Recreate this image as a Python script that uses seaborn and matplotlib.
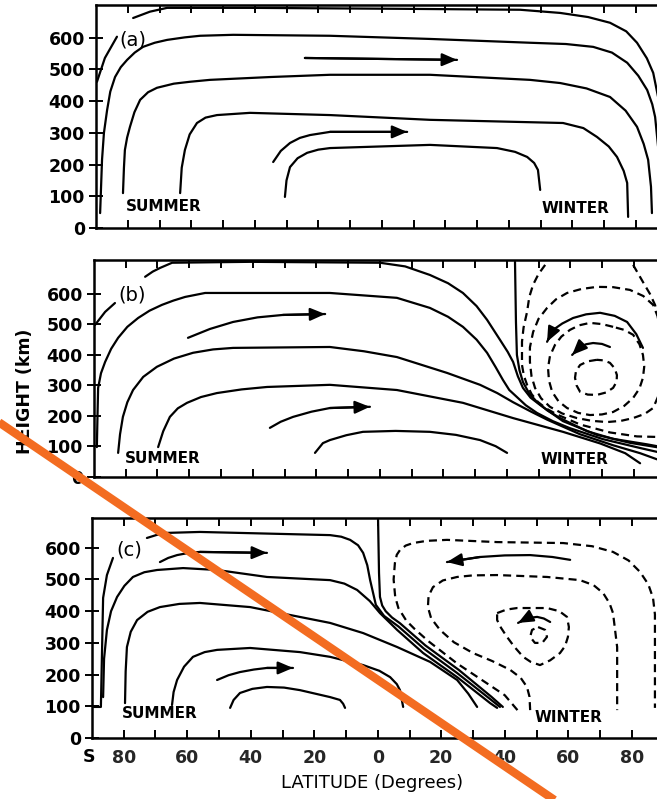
"""Three-panel meridional circulation sketch (summer/winter), redrawn with seaborn."""
import matplotlib

matplotlib.use("Agg")
import matplotlib.pyplot as plt
import seaborn as sns
from matplotlib.lines import Line2D

sns.set_theme(style="white")
plt.rcParams["font.family"] = ["DejaVu Sans"]

INK = "black"
ORANGE = "#f36c21"

# ---- axis values ------------------------------------------------------------
LAT_TICKS = list(range(-80, 90, 10))
LAT_LABELS = ["80", "", "60", "", "40", "", "20", "", "0", "", "20", "", "40", "", "60", "", "80"]
HEIGHT_TICKS = [0, 100, 200, 300, 400, 500, 600]

# ---- panel (a): streamlines as (latitude, height km) ------------------------
A_LEAD = [(-83.4, 603), (-87.2, 536), (-89.7, 461)]
A_TOP = [(-78.3, 662), (-73.0, 682), (-67.6, 694), (-41.5, 694), (5.8, 691), (43.6, 688),
         (56.2, 678), (65.0, 665), (71.9, 647), (77.0, 620), (80.4, 584), (83.5, 535),
         (85.5, 489), (87.3, 400), (88.3, 309), (89.0, 88)]
A_600 = [(-88.7, 47), (-88.1, 215), (-87.5, 300), (-86.5, 372), (-85.5, 430), (-84.0, 476),
         (-82.2, 507), (-80.2, 530), (-77.8, 553), (-75.2, 571), (-71.5, 584), (-67.6, 593),
         (-62.0, 601), (-57.2, 606), (-46.8, 609), (-16.3, 606), (15.2, 596), (46.7, 584),
         (58.0, 580), (66.6, 571), (72.5, 553), (77.3, 521), (80.8, 480), (83.6, 435),
         (85.2, 390), (86.1, 350), (87.0, 260), (87.3, 183), (87.7, 47)]
A_480 = [(-81.5, 110), (-81.2, 190), (-80.9, 246), (-80.2, 285), (-79.3, 319), (-77.9, 365),
         (-76.1, 404), (-73.6, 428), (-70.8, 442), (-65.5, 455), (-60.4, 461), (-54.1, 467),
         (-35.0, 476), (-16.3, 483), (15.2, 483), (46.7, 467), (56.2, 457), (64.5, 440),
         (71.9, 413), (76.8, 370), (80.4, 319), (82.5, 265), (83.9, 215), (84.8, 130), (85.1, 47)]
A_356 = [(-63.5, 110), (-63.0, 190), (-62.0, 246), (-60.5, 295), (-58.2, 331), (-55.5, 348),
         (-51.9, 356), (-41.5, 363), (-16.3, 356), (15.2, 341), (57.1, 331), (63.5, 315),
         (67.8, 287), (71.5, 257), (74.1, 224), (76.2, 180), (77.3, 142), (77.6, 35)]
A_250 = [(-30.5, 98), (-30.0, 150), (-28.9, 192), (-26.5, 220), (-23.5, 237), (-20.0, 247),
         (-16.3, 252), (15.2, 262), (36.3, 252), (42.0, 240), (45.8, 224), (48.0, 205),
         (49.2, 183), (49.9, 120)]
A_ARR1 = [(-24.2, 536), (23.7, 530)]
A_ARR2 = [(-34.2, 208), (-31.8, 243), (-28.9, 268), (-25.8, 284), (-22.6, 293), (-16.3, 303),
          (8.0, 303)]

# ---- panel (b) --------------------------------------------------------------
B_LEAD = [(-83.4, 570), (-86.5, 541), (-89.7, 498)]
B_TOP = [(-73.9, 656), (-71.5, 673), (-69.2, 685), (-65.4, 702), (-40.9, 705), (0.1, 702),
         (8.0, 690), (15.8, 662), (21.5, 635), (26.2, 603), (30.5, 560), (33.8, 515),
         (37.9, 449), (40.3, 410), (42.0, 377), (43.5, 330), (45.1, 292), (47.5, 260),
         (50.5, 236), (57.7, 183), (68.4, 138), (78.8, 112), (88.3, 96)]
B_600 = [(-89.1, 98), (-88.9, 200), (-88.7, 292), (-87.8, 340), (-86.5, 377), (-84.6, 420),
         (-82.4, 456), (-79.5, 492), (-76.1, 521), (-72.5, 545), (-68.6, 564), (-65.0, 578),
         (-61.3, 590), (-55.0, 603), (-15.7, 603), (5.4, 587), (15.8, 554), (21.5, 525),
         (26.2, 492), (30.5, 450), (33.8, 407), (36.5, 360), (38.8, 318), (40.8, 285),
         (43.2, 262), (46.0, 235), (49.5, 210), (54.5, 183), (59.9, 160), (70.3, 124),
         (82.0, 95), (88.3, 80)]
B_426 = [(-82.4, 79), (-81.8, 140), (-80.9, 197), (-79.5, 245), (-77.7, 285), (-74.5, 328),
         (-70.2, 361), (-64.8, 388), (-58.8, 407), (-52.5, 418), (-46.2, 423), (-15.7, 426),
         (-5.0, 412), (5.4, 393), (13.0, 368), (21.2, 341), (31.6, 302), (37.0, 275),
         (42.0, 245), (47.5, 215), (52.7, 188), (63.1, 140), (73.5, 104), (82.0, 78), (87.3, 58)]
B_302 = [(-69.8, 98), (-68.2, 150), (-66.1, 197), (-63.6, 225), (-60.7, 243), (-56.3, 262),
         (-51.3, 275), (-43.5, 287), (-35.5, 295), (-15.7, 302), (5.4, 285), (26.2, 243),
         (42.0, 193), (57.7, 148), (69.4, 110), (77.3, 78), (82.0, 45)]
B_INNER = [(-20.4, 79), (-17.9, 111), (-15.7, 121), (-10.5, 137), (-5.3, 148), (5.0, 151),
           (15.8, 148), (24.0, 138), (31.6, 121), (36.5, 101), (40.1, 79)]
B_VERT = [(42.6, 705), (42.9, 508), (43.2, 400), (44.0, 350), (45.1, 311), (47.0, 275),
          (49.5, 246), (52.8, 218), (56.8, 193), (65.3, 150), (73.5, 125), (84.2, 107), (88.9, 98)]
B_ARR1 = [(-60.4, 456), (-53.5, 485), (-46.2, 508), (-38.5, 523), (-30.5, 531), (-17.2, 534)]
B_ARR2 = [(-34.6, 161), (-31.2, 181), (-27.3, 197), (-21.5, 214), (-15.7, 226), (-3.1, 230)]
B_ARR3 = [(82.9, 423), (80.8, 468), (77.9, 508), (74.0, 528), (69.4, 538), (65.0, 533),
          (60.9, 521), (57.5, 503), (54.6, 482), (52.7, 443)]
B_ARR4 = [(72.5, 426), (70.0, 436), (67.2, 439), (65.0, 435), (63.1, 426), (60.6, 400)]
B_DASH_EDGE = [(52.1, 695), (50.0, 665), (48.3, 630), (47.1, 590), (46.4, 541), (45.3, 490),
               (44.8, 443), (44.8, 367), (45.4, 332), (46.4, 302), (47.8, 272), (49.8, 246),
               (52.5, 224), (55.8, 205), (63.1, 172), (72.5, 146), (81.0, 133), (88.3, 131)]
B_DASH_RIGHT = [(79.8, 695), (82.9, 639), (85.1, 600), (86.7, 564), (88.1, 510), (88.9, 449)]
B_LOOP1 = [(88.3, 482), (87.5, 527), (86.1, 564), (83.0, 593), (78.8, 613), (73.5, 622),
           (68.4, 623), (63.5, 616), (59.0, 603), (55.5, 582), (52.7, 554), (50.0, 518),
           (48.3, 475), (47.3, 425), (47.3, 377), (47.8, 330), (48.9, 292), (50.8, 258),
           (53.6, 230), (57.5, 208), (62.1, 193), (66.8, 184), (71.6, 180), (76.0, 184),
           (79.8, 193), (83.5, 207), (86.1, 226), (87.6, 262), (88.3, 302)]
B_LOOP2 = [(73.5, 492), (70.0, 501), (66.2, 505), (62.8, 497), (59.9, 482), (57.2, 460),
           (55.2, 433), (53.6, 396), (53.0, 357), (53.3, 316), (54.3, 279), (56.3, 248),
           (59.0, 226), (62.5, 210), (66.2, 203), (70.0, 205), (73.5, 213), (77.0, 233),
           (79.8, 259), (81.8, 290), (82.9, 325), (83.3, 362), (82.9, 400), (81.8, 435),
           (79.8, 466), (77.0, 482), (73.5, 492)]
B_LOOP3 = [(68.4, 384), (65.5, 379), (63.1, 367), (61.8, 347), (61.5, 325), (62.0, 300),
           (63.1, 279), (65.5, 270), (68.4, 269), (71.3, 277), (73.5, 292), (74.6, 312),
           (74.7, 334), (74.0, 356), (72.5, 374), (70.6, 382), (68.4, 384)]

# ---- panel (c) --------------------------------------------------------------
C_LEAD = [(-83.4, 568), (-85.3, 514), (-86.5, 442), (-87.2, 98), (-89.4, 98)]
C_TOP = [(-72.7, 631), (-69.5, 641), (-66.4, 647), (-56.0, 650), (-15.0, 640), (-11.5, 635),
         (-8.7, 625), (-6.2, 608), (-4.6, 584), (-3.3, 545), (-2.4, 498), (-0.6, 420),
         (2.0, 385), (6.5, 352), (14.5, 282), (25.0, 205), (35.5, 122), (38.5, 98)]
C_VERT = [(0.1, 688), (0.4, 520), (0.7, 445), (1.4, 418), (2.5, 400), (4.5, 380), (7.0, 362),
          (15.0, 292), (25.5, 215), (35.8, 130), (39.4, 98)]
C_530 = [(-86.5, 129), (-86.2, 250), (-85.3, 341), (-84.0, 400), (-82.1, 445), (-79.8, 480),
         (-77.1, 508), (-73.5, 523), (-69.5, 530), (-61.3, 536), (-50.6, 530), (-34.9, 508),
         (-15.0, 498), (-10.5, 487), (-6.5, 467), (-2.5, 432), (0.7, 394), (6.1, 341),
         (14.3, 268), (25.0, 192), (35.4, 110), (37.6, 95)]
C_420 = [(-79.6, 110), (-79.4, 210), (-79.0, 287), (-77.8, 335), (-75.8, 372), (-72.5, 398),
         (-68.6, 413), (-62.5, 423), (-56.0, 426), (-40.2, 413), (-15.0, 363), (-4.6, 331),
         (6.1, 287), (16.5, 240), (25.0, 183), (28.5, 140), (31.3, 98)]
C_300 = [(-64.8, 104), (-64.3, 145), (-63.2, 183), (-61.0, 225), (-58.2, 256), (-54.5, 271),
         (-50.6, 278), (-40.2, 284), (-24.5, 271), (-15.0, 256), (-4.6, 230), (0.5, 212),
         (3.9, 192), (6.0, 170), (7.0, 151), (8.0, 98)]
C_INNER = [(-46.5, 95), (-45.4, 120), (-43.4, 142), (-39.5, 155), (-34.9, 161), (-29.5, 159),
           (-24.5, 151), (-15.0, 129), (-11.9, 120), (-10.9, 108), (-10.3, 95)]
C_ARR1 = [(-68.6, 555), (-66.0, 568), (-63.2, 577), (-59.5, 584), (-56.0, 587), (-34.9, 584)]
C_ARR2 = [(-50.6, 183), (-47.0, 198), (-43.4, 208), (-39.0, 216), (-34.9, 221), (-26.7, 221)]
C_ARR3 = [(60.6, 562), (55.0, 571), (48.0, 577), (40.0, 576), (32.2, 571), (21.8, 555)]
C_ARR4 = [(54.3, 366), (52.3, 377), (50.2, 382), (47.0, 378), (44.2, 363)]
C_DASH1 = [(44.0, 88), (40.0, 135), (34.0, 175), (25.0, 235), (16.0, 305), (11.5, 345),
           (9.0, 370), (6.5, 410), (5.5, 445), (5.0, 500), (5.4, 552), (6.0, 578), (7.0, 593),
           (8.8, 607), (11.1, 615), (15.5, 622), (21.8, 625), (37.6, 618), (58.4, 615),
           (67.5, 605), (74.1, 587), (79.0, 560), (82.6, 524), (85.2, 485), (86.7, 442),
           (87.3, 390), (87.3, 334), (87.3, 95)]
C_DASH2 = [(48.0, 88), (47.8, 130), (47.0, 161), (45.0, 190), (41.7, 215), (36.0, 243),
           (30.0, 268), (24.0, 302), (19.6, 341), (16.8, 378), (15.8, 413), (16.0, 448),
           (17.4, 476), (20.5, 497), (25.0, 508), (30.0, 513), (37.6, 514), (53.3, 508),
           (63.7, 498), (68.0, 482), (71.0, 457), (73.0, 425), (74.1, 394), (75.4, 287), (75.4, 88)]
C_DASH3 = [(37.6, 394), (40.5, 405), (43.9, 410), (53.3, 410), (57.2, 400), (59.6, 382),
           (60.2, 350), (59.9, 319), (59.0, 290), (57.4, 268), (54.3, 245), (51.1, 230),
           (48.2, 240), (45.8, 256), (43.0, 288), (40.7, 319), (38.8, 348), (37.6, 372), (37.6, 394)]
C_DASH4 = [(50.5, 350), (52.7, 341), (53.3, 319), (51.8, 300), (49.5, 300), (48.0, 319),
           (48.6, 341), (50.5, 350)]
C_DASH_RIGHT = [(88.8, 610), (88.8, 500)]

# ---- text ---------------------------------------------------------------------
PANEL_TAGS = ["(a)", "(b)", "(c)"]
TAG_POS = [(-82.6, 593), (-82.4, 597), (-82.4, 593)]
SUMMER_POS = [(-80.6, 69), (-80.2, 59), (-80.6, 76)]
WINTER_POS = [(50.4, 60), (50.5, 56), (49.5, 66)]

# axes boxes in pixels: left spine, top spine, bottom spine, top of y-range
FIG_W, FIG_H = 657, 799
PANEL_BOX = [(96, 5, 228, 703), (94, 260, 477, 711), (92, 518, 738, 694)]
PX_PER_DEG = 3.175
ORANGE_START_PX = (0, 423)
ORANGE_END_PX = (553, 799)


def draw(ax, pts, dashed=False, arrow=False):
    xs = [p[0] for p in pts]
    ys = [p[1] for p in pts]
    ls = (0, (3.6, 2.3)) if dashed else "-"
    sns.lineplot(x=xs, y=ys, sort=False, estimator=None, ax=ax, color=INK,
                 lw=1.6, linestyle=ls, solid_joinstyle="round", dash_joinstyle="round")
    if arrow:
        ax.annotate("", xy=pts[-1], xytext=pts[-2],
                    arrowprops=dict(arrowstyle="-|>,head_length=0.75,head_width=0.32",
                                    mutation_scale=12, color=INK, lw=1.6,
                                    shrinkA=0, shrinkB=0))


fig = plt.figure(figsize=(FIG_W / 100, FIG_H / 100), dpi=100)
axes = []
for left, top, bottom, ytop in PANEL_BOX:
    width = 180 * PX_PER_DEG
    ax = fig.add_axes([left / FIG_W, 1 - bottom / FIG_H, width / FIG_W, (bottom - top) / FIG_H])
    ax.set_xlim(-90, 90)
    ax.set_ylim(0, ytop)
    ax.set_xticks(LAT_TICKS)
    ax.set_yticks(HEIGHT_TICKS)
    ax.set_yticklabels([str(v) for v in HEIGHT_TICKS], fontsize=12.5, fontweight="bold")
    ax.tick_params(axis="x", which="both", direction="in", length=6, width=1.4,
                   top=True, bottom=True, labelbottom=False, color=INK)
    ax.tick_params(axis="y", direction="inout", length=10, width=1.4, pad=3,
                   left=True, right=False, color=INK, labelcolor=INK)
    for sp in ax.spines.values():
        sp.set_linewidth(1.8)
        sp.set_color(INK)
    ax.set_xlabel("")
    ax.set_ylabel("")
    ax.set_facecolor("white")
    axes.append(ax)

ax_a, ax_b, ax_c = axes

for pts in [A_LEAD, A_TOP, A_600, A_480, A_356, A_250]:
    draw(ax_a, pts)
for pts in [A_ARR1, A_ARR2]:
    draw(ax_a, pts, arrow=True)

for pts in [B_LEAD, B_TOP, B_600, B_426, B_302, B_INNER, B_VERT]:
    draw(ax_b, pts)
for pts in [B_ARR1, B_ARR2, B_ARR3, B_ARR4]:
    draw(ax_b, pts, arrow=True)
for pts in [B_DASH_EDGE, B_DASH_RIGHT, B_LOOP1, B_LOOP2, B_LOOP3]:
    draw(ax_b, pts, dashed=True)

for pts in [C_LEAD, C_TOP, C_VERT, C_530, C_420, C_300, C_INNER]:
    draw(ax_c, pts)
for pts in [C_ARR1, C_ARR2, C_ARR3, C_ARR4]:
    draw(ax_c, pts, arrow=True)
for pts in [C_DASH1, C_DASH2, C_DASH3, C_DASH4, C_DASH_RIGHT]:
    draw(ax_c, pts, dashed=True)

for ax, tag, tpos, spos, wpos in zip(axes, PANEL_TAGS, TAG_POS, SUMMER_POS, WINTER_POS):
    ax.text(*tpos, tag, fontsize=14, ha="left", va="center", color=INK)
    ax.text(*spos, "SUMMER", fontsize=11, fontweight="bold", ha="left", va="center", color=INK)
    ax.text(*wpos, "WINTER", fontsize=11, fontweight="bold", ha="left", va="center", color=INK)

ax_c.set_xticklabels(LAT_LABELS, fontsize=12.5, fontweight="bold")
ax_c.tick_params(axis="x", labelbottom=True, pad=8)
ax_c.text(-90.8, -0.087, "S", transform=ax_c.get_xaxis_transform(), fontsize=12.5,
          fontweight="bold", ha="center", va="center", color=INK)

fig.text(25 / FIG_W, 1 - 391 / FIG_H, "HEIGHT (km)", rotation=90, ha="center", va="center",
         fontsize=12.5, fontweight="bold", color=INK)
fig.text(372 / FIG_W, 1 - 783 / FIG_H, "LATITUDE (Degrees)", ha="center", va="center",
         fontsize=13, color=INK)

# orange stroke laid across the scan
x0, y0 = ORANGE_START_PX[0] / FIG_W, 1 - ORANGE_START_PX[1] / FIG_H
x1, y1 = ORANGE_END_PX[0] / FIG_W, 1 - ORANGE_END_PX[1] / FIG_H
slope = (y1 - y0) / (x1 - x0)
fig.add_artist(Line2D([x0 - 0.02, x1 + 0.02], [y0 - 0.02 * slope, y1 + 0.02 * slope],
                      transform=fig.transFigure, color=ORANGE, lw=6, zorder=10,
                      solid_capstyle="butt"))

fig.savefig("out.png", dpi=100, facecolor="white")
